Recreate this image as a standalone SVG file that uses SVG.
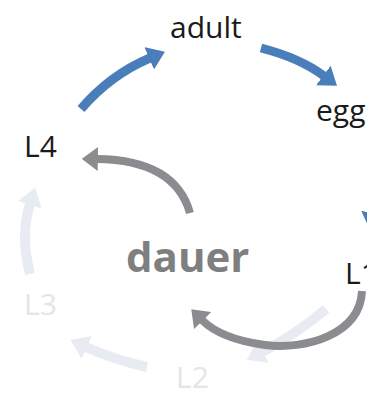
<svg xmlns="http://www.w3.org/2000/svg" width="367" height="395" viewBox="0 0 367 395">
  <style>
    .lbl { font-family: "Open Sans", "Liberation Sans", sans-serif; font-size: 30px; fill: #1a1a1a; }
    .faint { fill: #e2e5e9; }
    .dauer { font-family: "Open Sans", "Liberation Sans", sans-serif; font-size: 42px; font-weight: bold; fill: #7f7f80; }
    .blue { fill: none; stroke: #4a7ebb; stroke-width: 9; marker-end: url(#hBlue); }
    .fade { fill: none; stroke: #e8ecf2; stroke-width: 10; marker-end: url(#hFade); }
    .gray { fill: none; stroke: #8b8c8f; stroke-width: 8; marker-end: url(#hGray); }
  </style>
  <defs>
    <marker id="hBlue" viewBox="0 0 10 10" refX="0.5" refY="5" markerWidth="1.9" markerHeight="2.7" orient="auto" preserveAspectRatio="none">
      <path d="M0,0 L10,5 L0,10 z" fill="#4a7ebb"/>
    </marker>
    <marker id="hFade" viewBox="0 0 10 10" refX="0.5" refY="5" markerWidth="1.8" markerHeight="2.5" orient="auto" preserveAspectRatio="none">
      <path d="M0,0 L10,5 L0,10 z" fill="#e8ecf2"/>
    </marker>
    <marker id="hGray" viewBox="0 0 10 10" refX="0.5" refY="5" markerWidth="2" markerHeight="3" orient="auto" preserveAspectRatio="none">
      <path d="M0,0 L10,5 L0,10 z" fill="#8b8c8f"/>
    </marker>
  </defs>
  <rect width="367" height="395" fill="#ffffff"/>
  <g id="connectors">
    <path class="blue" d="M81,109 Q110,75 150,58"/>
    <path class="blue" d="M261,48 Q300,58 324,76"/>
    <path class="blue" d="M374,144 Q378,188 373,214"/>
    <path class="fade" d="M326,309 Q295,335 262,352"/>
    <path class="fade" d="M147,367 Q115,360 86,347"/>
    <path class="fade" d="M30,274 Q20,235 30,204"/>
    <path class="gray" d="M190,213 Q175,160 97,159"/>
    <path class="gray" d="M362,291 C360,335 305,350 265,345 C235,341 215,333 202,320"/>
  </g>
  <g id="node-adult"><text class="lbl" x="170" y="38">adult</text></g>
  <g id="node-egg"><text class="lbl" x="316" y="121">egg</text></g>
  <g id="node-L1"><text class="lbl" x="345" y="284">L1</text></g>
  <g id="node-L2"><text class="lbl faint" x="176" y="388">L2</text></g>
  <g id="node-L3"><text class="lbl faint" x="24" y="315">L3</text></g>
  <g id="node-L4"><text class="lbl" x="24" y="157">L4</text></g>
  <g id="node-dauer"><text class="dauer" x="126" y="272">dauer</text></g>
</svg>
